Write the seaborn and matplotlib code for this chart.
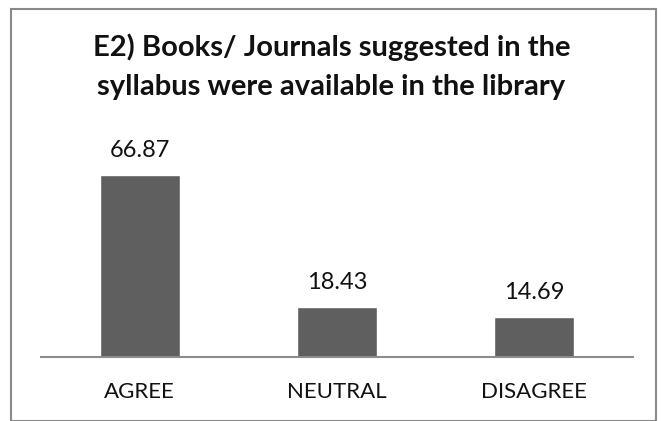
import matplotlib
matplotlib.use("Agg")
import matplotlib.pyplot as plt
import seaborn as sns
import pandas as pd
from matplotlib.patches import Rectangle

categories = ["AGREE", "NEUTRAL", "DISAGREE"]
values = [66.87, 18.43, 14.69]
title = "E2) Books/ Journals suggested in the\nsyllabus were available in the library"

sns.set_style("white")
plt.rcParams['font.family'] = ['Lato', 'DejaVu Sans']

df = pd.DataFrame({"cat": categories, "val": values})

fig = plt.figure(figsize=(6.63, 4.21), dpi=100)
ax = fig.add_axes([41/663, 1-357/421, (633-41)/663, (357-139)/421])
sns.barplot(data=df, x="cat", y="val", color="#5f5f5f", saturation=1, width=0.405, ax=ax)
ax.set_xlim(-0.5, 2.5)
ax.set_ylim(0, 80)
for c in ax.containers:
    ax.bar_label(c, labels=[f"{v:.2f}" for v in values], padding=10, fontsize=17, color="#111111")
ax.set_xlabel("")
ax.set_ylabel("")
ax.set_yticks([])
ax.tick_params(axis='x', length=0, pad=18, labelsize=16, labelcolor="#111111")
for s in ["top", "right", "left"]:
    ax.spines[s].set_visible(False)
ax.spines["bottom"].set_color("#8c8c8c")
ax.spines["bottom"].set_linewidth(1.5)

fig.text(0.5, 1-67/421, title, ha="center", va="center", fontsize=21, fontweight="bold",
         linespacing=1.6, color="#111111")
fig.patches.append(Rectangle((11/663, 0), (656-11)/663, 1-9/421, transform=fig.transFigure,
                             fill=False, edgecolor="#8a8a8a", linewidth=1.5))
fig.savefig("out.png", dpi=100)
